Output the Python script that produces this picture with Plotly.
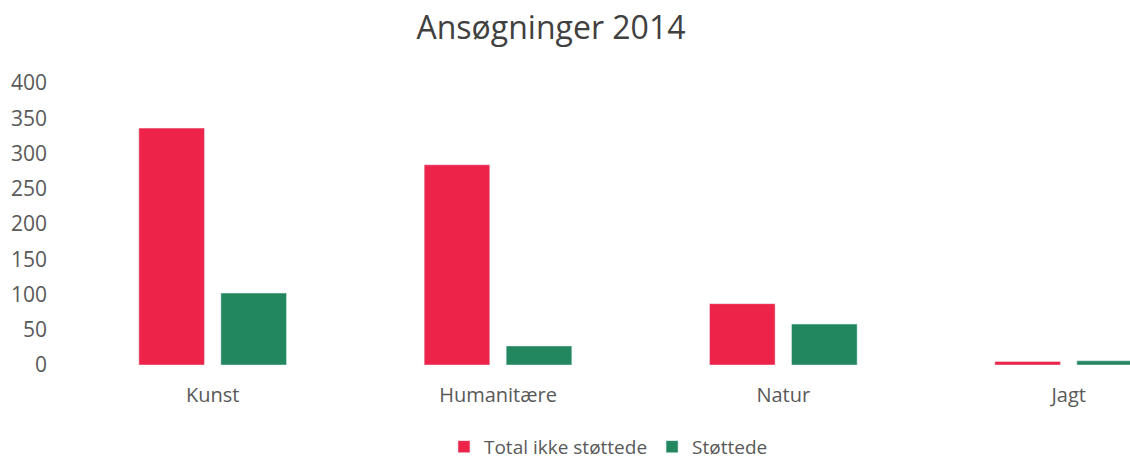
import plotly.graph_objects as go

categories = ["Kunst", "Humanitære", "Natur", "Jagt"]
ikke_stottede = [336, 284, 87, 5]
stottede = [102, 27, 58, 6]
series_names = ["Total ikke støttede", "Støttede"]
y_ticks = [0, 50, 100, 150, 200, 250, 300, 350, 400]

red = "#ED2349"
green = "#22875F"
font_family = "Open Sans, Liberation Sans, sans-serif"

fig = go.Figure()
fig.add_trace(go.Bar(x=categories, y=ikke_stottede, name=series_names[0], marker_color=red))
fig.add_trace(go.Bar(x=categories, y=stottede, name=series_names[1], marker_color=green))

fig.update_layout(
    width=1130, height=459,
    paper_bgcolor="white", plot_bgcolor="white",
    margin=dict(l=70, r=0, t=83, b=94, autoexpand=False),
    barmode="group", bargap=0.425, bargroupgap=0.2,
    title=dict(text="Ansøgninger 2014", x=551/1130, xref="container", xanchor="center",
               y=1 - 28/459, yref="container", yanchor="middle",
               font=dict(family=font_family, size=32, color="#404040")),
    font=dict(family=font_family, color="#595959"),
    xaxis=dict(range=[-0.5, 3.215], showgrid=False, showline=False, zeroline=False,
               automargin=False,
               ticks="", tickfont=dict(size=20, color="#595959"), ticklabelstandoff=16),
    yaxis=dict(range=[0, 400], tickvals=y_ticks, showgrid=False, showline=False, zeroline=False,
               automargin=False,
               ticks="", tickfont=dict(size=21, color="#595959"), ticklabelstandoff=22),
    legend=dict(orientation="h", x=0.508, xanchor="center", y=-0.29, yanchor="middle",
                font=dict(size=19, color="#595959"), itemwidth=30),
    showlegend=True,
)

fig.write_html("out.html", config={"displayModeBar": False},
               post_script="document.body.style.margin='0px';")
